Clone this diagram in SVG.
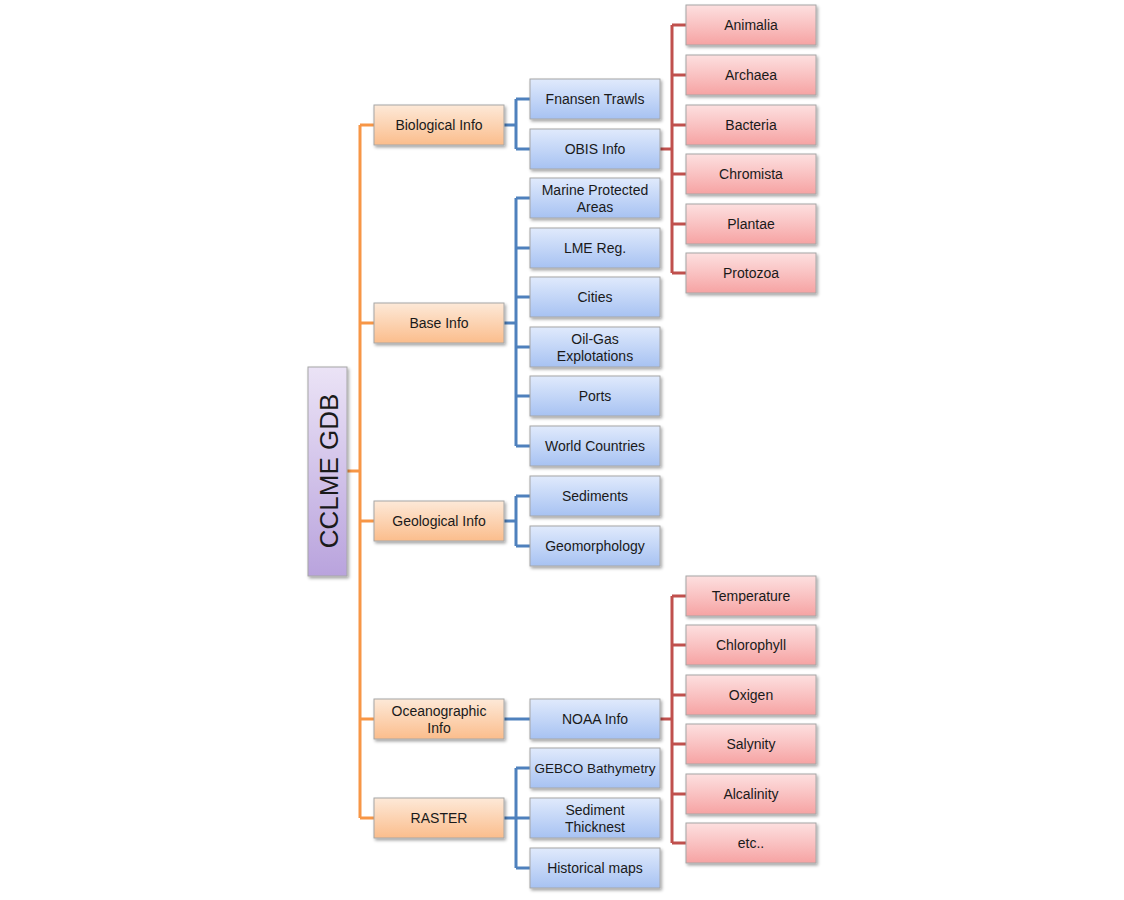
<svg xmlns="http://www.w3.org/2000/svg" width="1124" height="900" viewBox="0 0 1124 900">
<defs>
<linearGradient id="gO" x1="0" y1="0" x2="0" y2="1"><stop offset="0" stop-color="#fde9d8"/><stop offset="1" stop-color="#fbbd8c"/></linearGradient>
<linearGradient id="gB" x1="0" y1="0" x2="0" y2="1"><stop offset="0" stop-color="#e0eafc"/><stop offset="1" stop-color="#a7c2f2"/></linearGradient>
<linearGradient id="gR" x1="0" y1="0" x2="0" y2="1"><stop offset="0" stop-color="#fde0e0"/><stop offset="1" stop-color="#f6a3a3"/></linearGradient>
<linearGradient id="gP" x1="0" y1="0" x2="0" y2="1"><stop offset="0" stop-color="#ebe3f6"/><stop offset="1" stop-color="#b9a3dd"/></linearGradient>
<filter id="sh" x="-20%" y="-20%" width="140%" height="150%"><feDropShadow dx="1.5" dy="2" stdDeviation="1.5" flood-color="#000" flood-opacity="0.35"/></filter>
</defs>
<style>
.n rect{stroke:#a6a6a6;stroke-width:1;filter:url(#sh)}
.o rect{fill:url(#gO)}
.b rect{fill:url(#gB)}
.r rect{fill:url(#gR)}
.p rect{fill:url(#gP)}
text{font-family:"Liberation Sans",Arial,sans-serif;font-size:14px;fill:#1a1a1a;text-anchor:middle;dominant-baseline:central}
.co{stroke:#f79646;stroke-width:3;fill:none}
.cb{stroke:#4f81bd;stroke-width:3;fill:none}
.cr{stroke:#c0504d;stroke-width:3;fill:none}
</style>
<rect width="1124" height="900" fill="#fff"/>
<g id="connectors">
<path class="co" d="M347 471H360M360 125V818M360 125H374M360 323H374M360 521H374M360 719H374M360 818H374"/>
<path class="cb" d="M504 125H516M516 99V149M516 99H530M516 149H530"/>
<path class="cb" d="M504 323H516M516 198V446M516 198H530M516 248H530M516 297H530M516 347H530M516 396H530M516 446H530"/>
<path class="cb" d="M504 521H516M516 496V546M516 496H530M516 546H530"/>
<path class="cb" d="M504 719H530"/>
<path class="cb" d="M504 818H516M516 768V868M516 768H530M516 818H530M516 868H530"/>
<path class="cr" d="M660 149H672M672 25V273M672 25H686M672 75H686M672 125H686M672 174H686M672 224H686M672 273H686"/>
<path class="cr" d="M660 719H672M672 596V843M672 596H686M672 645H686M672 695H686M672 744H686M672 794H686M672 843H686"/>
</g>
<g id="root" class="n p"><rect x="308" y="367" width="39" height="209"/><text transform="translate(329 471) rotate(-90)" style="font-size:26px">CCLME GDB</text></g>
<g id="biological" class="n o"><rect x="374" y="105" width="130" height="40"/><text x="439" y="125">Biological Info</text></g>
<g id="base" class="n o"><rect x="374" y="303" width="130" height="40"/><text x="439" y="323">Base Info</text></g>
<g id="geological" class="n o"><rect x="374" y="501" width="130" height="40"/><text x="439" y="521">Geological Info</text></g>
<g id="oceanographic" class="n o"><rect x="374" y="699" width="130" height="40"/><text x="439" y="711">Oceanographic</text><text x="439" y="728">Info</text></g>
<g id="raster" class="n o"><rect x="374" y="798" width="130" height="40"/><text x="439" y="818">RASTER</text></g>
<g id="fnansen" class="n b"><rect x="530" y="79" width="130" height="40"/><text x="595" y="99">Fnansen Trawls</text></g>
<g id="obis" class="n b"><rect x="530" y="129" width="130" height="40"/><text x="595" y="149">OBIS Info</text></g>
<g id="mpa" class="n b"><rect x="530" y="178" width="130" height="40"/><text x="595" y="190">Marine Protected</text><text x="595" y="207">Areas</text></g>
<g id="lme" class="n b"><rect x="530" y="228" width="130" height="40"/><text x="595" y="248">LME Reg.</text></g>
<g id="cities" class="n b"><rect x="530" y="277" width="130" height="40"/><text x="595" y="297">Cities</text></g>
<g id="oilgas" class="n b"><rect x="530" y="327" width="130" height="40"/><text x="595" y="339">Oil-Gas</text><text x="595" y="356">Explotations</text></g>
<g id="ports" class="n b"><rect x="530" y="376" width="130" height="40"/><text x="595" y="396">Ports</text></g>
<g id="world" class="n b"><rect x="530" y="426" width="130" height="40"/><text x="595" y="446">World Countries</text></g>
<g id="sediments" class="n b"><rect x="530" y="476" width="130" height="40"/><text x="595" y="496">Sediments</text></g>
<g id="geomorph" class="n b"><rect x="530" y="526" width="130" height="40"/><text x="595" y="546">Geomorphology</text></g>
<g id="noaa" class="n b"><rect x="530" y="699" width="130" height="40"/><text x="595" y="719">NOAA Info</text></g>
<g id="gebco" class="n b"><rect x="530" y="748" width="130" height="40"/><text x="595" y="768" style="font-size:13.5px">GEBCO Bathymetry</text></g>
<g id="sedthick" class="n b"><rect x="530" y="798" width="130" height="40"/><text x="595" y="810">Sediment</text><text x="595" y="827">Thicknest</text></g>
<g id="histmaps" class="n b"><rect x="530" y="848" width="130" height="40"/><text x="595" y="868">Historical maps</text></g>
<g id="animalia" class="n r"><rect x="686" y="5" width="130" height="40"/><text x="751" y="25">Animalia</text></g>
<g id="archaea" class="n r"><rect x="686" y="55" width="130" height="40"/><text x="751" y="75">Archaea</text></g>
<g id="bacteria" class="n r"><rect x="686" y="105" width="130" height="40"/><text x="751" y="125">Bacteria</text></g>
<g id="chromista" class="n r"><rect x="686" y="154" width="130" height="40"/><text x="751" y="174">Chromista</text></g>
<g id="plantae" class="n r"><rect x="686" y="204" width="130" height="40"/><text x="751" y="224">Plantae</text></g>
<g id="protozoa" class="n r"><rect x="686" y="253" width="130" height="40"/><text x="751" y="273">Protozoa</text></g>
<g id="temperature" class="n r"><rect x="686" y="576" width="130" height="40"/><text x="751" y="596">Temperature</text></g>
<g id="chlorophyll" class="n r"><rect x="686" y="625" width="130" height="40"/><text x="751" y="645">Chlorophyll</text></g>
<g id="oxigen" class="n r"><rect x="686" y="675" width="130" height="40"/><text x="751" y="695">Oxigen</text></g>
<g id="salynity" class="n r"><rect x="686" y="724" width="130" height="40"/><text x="751" y="744">Salynity</text></g>
<g id="alcalinity" class="n r"><rect x="686" y="774" width="130" height="40"/><text x="751" y="794">Alcalinity</text></g>
<g id="etc" class="n r"><rect x="686" y="823" width="130" height="40"/><text x="751" y="843">etc..</text></g>
</svg>
